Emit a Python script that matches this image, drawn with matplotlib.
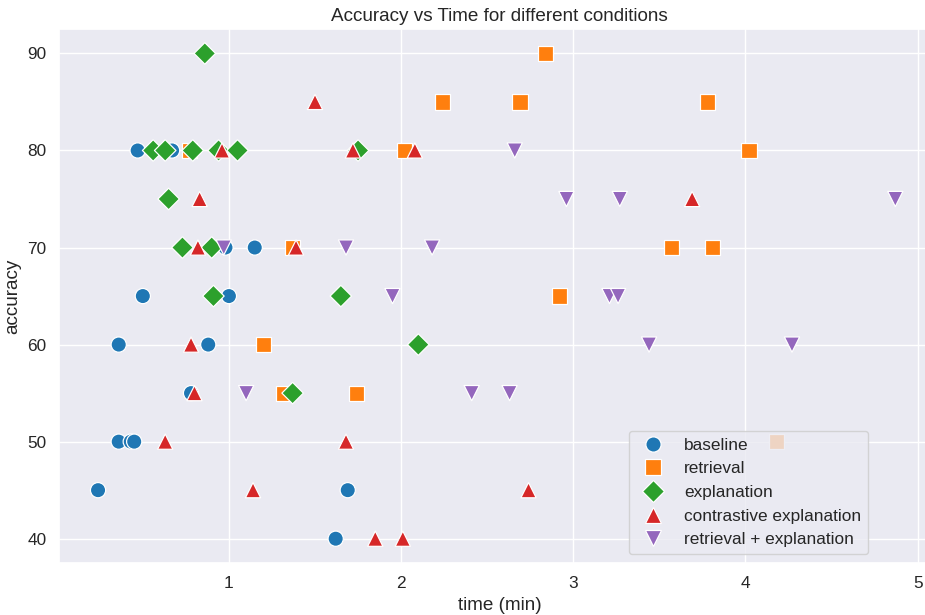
import pandas as pd
import seaborn as sns
import matplotlib.pyplot as plt

conditions = ['baseline', 'retrieval', 'explanation', 'contrastive explanation', 'retrieval + explanation']

baseline_time = [0.47, 0.67, 0.98, 1.15, 0.5, 1.0, 0.36, 0.88, 0.78, 0.36, 0.43, 0.45, 0.24, 1.69, 1.62]
baseline_acc = [80, 80, 70, 70, 65, 65, 60, 60, 55, 50, 50, 50, 45, 45, 40]

retrieval_time = [2.84, 2.24, 2.69, 3.78, 0.77, 2.02, 4.02, 1.37, 3.57, 3.81, 2.92, 1.2, 1.32, 1.74, 4.18]
retrieval_acc = [90, 85, 85, 85, 80, 80, 80, 70, 70, 70, 65, 60, 55, 55, 50]

explanation_time = [0.86, 0.56, 0.63, 0.79, 0.94, 1.05, 1.75, 0.65, 0.73, 0.9, 0.91, 1.65, 2.1, 1.37]
explanation_acc = [90, 80, 80, 80, 80, 80, 80, 75, 70, 70, 65, 65, 60, 55]

contrastive_time = [1.5, 0.96, 1.72, 2.08, 0.83, 3.69, 0.82, 1.39, 0.78, 0.8, 0.63, 1.68, 1.14, 2.74, 1.85, 2.01]
contrastive_acc = [85, 80, 80, 80, 75, 75, 70, 70, 60, 55, 50, 50, 45, 45, 40, 40]

ret_expl_time = [2.66, 2.96, 3.27, 4.87, 0.97, 1.68, 2.18, 1.95, 3.21, 3.26, 3.44, 4.27, 1.1, 2.41, 2.63]
ret_expl_acc = [80, 75, 75, 75, 70, 70, 70, 65, 65, 65, 60, 60, 55, 55, 55]

times = [baseline_time, retrieval_time, explanation_time, contrastive_time, ret_expl_time]
accs = [baseline_acc, retrieval_acc, explanation_acc, contrastive_acc, ret_expl_acc]

rows = []
for cond, t, a in zip(conditions, times, accs):
    for ti, ai in zip(t, a):
        rows.append({'time (min)': ti, 'accuracy': ai, 'condition': cond})
df = pd.DataFrame(rows)

sns.set_theme(style='darkgrid', font_scale=1.13)
plt.rcParams['font.family'] = ['Liberation Sans', 'DejaVu Sans']

fig = plt.figure(figsize=(9.25, 6.15), dpi=100)
ax = fig.add_axes([0.0643, 0.0846, 0.952, 0.868])

markers = dict(zip(conditions, ['o', 's', 'D', '^', 'v']))
sns.scatterplot(data=df, x='time (min)', y='accuracy', hue='condition', style='condition',
                markers=markers, palette='tab10', s=120, ax=ax)

ax.set_xlim(0.016, 5.13)
ax.set_title('Accuracy vs Time for different conditions')
ax.legend(loc='lower right', bbox_to_anchor=(0.928, 0.0))

fig.savefig('out.png', dpi=100)
